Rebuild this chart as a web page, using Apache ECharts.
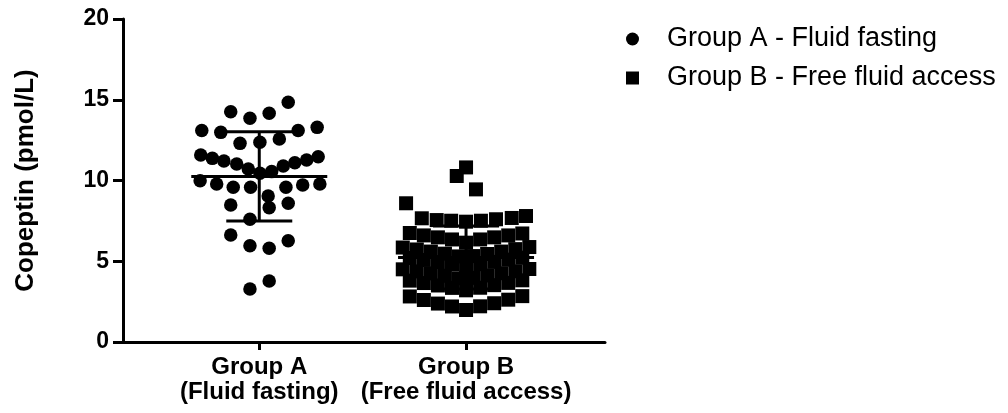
<!DOCTYPE html>
<html>
<head>
<meta charset="utf-8">
<script src="https://cdn.jsdelivr.net/npm/echarts@6/dist/echarts.min.js"></script>
<style>
html, body { margin: 0; padding: 0; background: #fff; }
#main { width: 1008px; height: 413px; }
</style>
</head>
<body>
<div id="main"></div>
<script>
var seriesNames = ['Group A - Fluid fasting', 'Group B - Free fluid access'];
var groupLabels = ['Group A\n(Fluid fasting)', 'Group B\n(Free fluid access)'];
var yTicks = [0, 5, 10, 15, 20];

// copeptin values, pmol/L
var groupAValues = [14.84, 14.26, 13.85, 14.16, 13.09, 12.98, 13.09, 13.29, 12.30, 12.37,
  12.57, 11.58, 11.37, 11.21, 11.02, 10.71, 10.45, 10.55, 10.90, 11.10,
  11.27, 11.47, 9.99, 9.78, 9.58, 9.58, 9.58, 9.72, 9.78, 9.04,
  8.48, 8.32, 8.59, 7.60, 6.63, 5.96, 5.80, 6.27, 3.28, 3.78];
// horizontal spread of each dot around its group (category units)
var groupASpread = [0.140, -0.138, -0.045, 0.048, -0.278, -0.186, 0.188, 0.280, -0.093, 0.003,
  0.097, -0.283, -0.227, -0.171, -0.109, -0.053, 0.003, 0.060, 0.116, 0.172,
  0.229, 0.285, -0.286, -0.206, -0.126, -0.042, 0.129, 0.210, 0.293, 0.043,
  -0.138, 0.048, 0.140, -0.045, -0.138, -0.045, 0.048, 0.140, -0.045, 0.048];

var groupBValues = [
  7.66, 7.55, 7.51, 7.45, 7.51, 7.60, 7.68, 7.80,
  8.59, 10.81, 10.28, 9.45,
  6.75, 6.60, 6.48, 6.35, 6.15, 6.35, 6.48, 6.60, 6.72,
  5.85, 5.73, 5.60, 5.47, 5.30, 5.32, 5.45, 5.60, 5.75, 5.88,
  5.20, 5.08, 4.95, 4.83, 4.67, 4.82, 4.96, 5.10, 5.22,
  4.50, 4.37, 4.25, 4.10, 3.95, 3.97, 4.12, 4.26, 4.38, 4.52,
  3.80, 3.65, 3.50, 3.35, 3.20, 3.36, 3.52, 3.66, 3.82,
  2.82, 2.60, 2.38, 2.20, 1.98, 2.21, 2.40, 2.62, 2.84];
var groupBSpread = [
  -0.214, -0.142, -0.072, 0, 0.072, 0.145, 0.221, 0.290,
  -0.290, 0, -0.045, 0.048,
  -0.272, -0.204, -0.136, -0.068, 0, 0.068, 0.136, 0.204, 0.272,
  -0.306, -0.238, -0.170, -0.102, -0.034, 0.034, 0.102, 0.170, 0.238, 0.306,
  -0.272, -0.204, -0.136, -0.068, 0, 0.068, 0.136, 0.204, 0.272,
  -0.306, -0.238, -0.170, -0.102, -0.034, 0.034, 0.102, 0.170, 0.238, 0.306,
  -0.272, -0.204, -0.136, -0.068, 0, 0.068, 0.136, 0.204, 0.272,
  -0.272, -0.204, -0.136, -0.068, 0, 0.068, 0.136, 0.204, 0.272];

var font = "'Liberation Sans', Arial, sans-serif";

function meanSd(v) {
  var m = v.reduce(function (a, b) { return a + b; }, 0) / v.length;
  var ss = v.reduce(function (a, b) { return a + (b - m) * (b - m); }, 0);
  return [m, Math.sqrt(ss / (v.length - 1))];
}

function toPoints(values, spread, pos) {
  return values.map(function (v, i) { return [pos + spread[i], v]; });
}

var sA = meanSd(groupAValues);
var sB = meanSd(groupBValues);
var summary = [[1, sA[0], sA[1]], [2, sB[0], sB[1]]];

var chart = echarts.init(document.getElementById('main'));

var option = {
  backgroundColor: '#fff',
  animation: false,
  grid: { left: 123, right: 403, top: 19, bottom: 71 },
  legend: {
    data: seriesNames,
    orient: 'vertical',
    left: 621,
    top: 18,
    itemWidth: 13,
    itemHeight: 13,
    itemGap: 7,
    selectedMode: false,
    textStyle: { fontFamily: font, fontSize: 27, color: '#000', lineHeight: 32, padding: [0, 0, 0, 23] }
  },
  xAxis: {
    type: 'value',
    min: 0.341,
    max: 2.672,
    splitLine: { show: false },
    axisLine: { lineStyle: { color: '#000', width: 3 } },
    axisTick: { customValues: [1, 2], length: 8, lineStyle: { color: '#000', width: 3 } },
    axisLabel: {
      customValues: [1, 2],
      formatter: function (v) { return groupLabels[Math.round(v) - 1]; },
      fontFamily: font, fontSize: 24, fontWeight: 'bold', color: '#000',
      lineHeight: 25, margin: 13
    }
  },
  yAxis: {
    type: 'value',
    min: 0,
    max: 20,
    interval: 5,
    name: 'Copeptin (pmol/L)',
    nameLocation: 'middle',
    nameGap: 84,
    nameTextStyle: { fontFamily: font, fontSize: 26, fontWeight: 'bold', color: '#000' },
    splitLine: { show: false },
    axisLine: { show: true, lineStyle: { color: '#000', width: 3 } },
    axisTick: { show: true, length: 10, lineStyle: { color: '#000', width: 3 } },
    axisLabel: {
      formatter: function (v) { return yTicks.indexOf(v) >= 0 ? String(v) : ''; },
      fontFamily: font, fontSize: 23, fontWeight: 'bold', color: '#000', margin: 14
    }
  },
  series: [
    {
      name: seriesNames[0],
      type: 'scatter',
      symbol: 'circle',
      symbolSize: 13.5,
      itemStyle: { color: '#000', opacity: 1 },
      emphasis: { disabled: true },
      data: toPoints(groupAValues, groupASpread, 1)
    },
    {
      name: seriesNames[1],
      type: 'scatter',
      symbol: 'rect',
      symbolSize: 14,
      itemStyle: { color: '#000', opacity: 1 },
      emphasis: { disabled: true },
      data: toPoints(groupBValues, groupBSpread, 2)
    },
    {
      // mean line with SD whiskers
      type: 'custom',
      z: 5,
      silent: true,
      data: summary,
      renderItem: function (params, api) {
        var x = api.value(0), m = api.value(1), sd = api.value(2);
        var c = api.coord([x, m]);
        var hi = api.coord([x, m + sd]);
        var lo = api.coord([x, m - sd]);
        var st = { stroke: '#000', lineWidth: 3 };
        return {
          type: 'group',
          children: [
            { type: 'line', shape: { x1: c[0] - 68, y1: c[1], x2: c[0] + 68, y2: c[1] }, style: st },
            { type: 'line', shape: { x1: c[0], y1: hi[1], x2: c[0], y2: lo[1] }, style: st },
            { type: 'line', shape: { x1: c[0] - 33, y1: hi[1], x2: c[0] + 33, y2: hi[1] }, style: st },
            { type: 'line', shape: { x1: c[0] - 33, y1: lo[1], x2: c[0] + 33, y2: lo[1] }, style: st }
          ]
        };
      }
    }
  ]
};

chart.setOption(option);
</script>
</body>
</html>
